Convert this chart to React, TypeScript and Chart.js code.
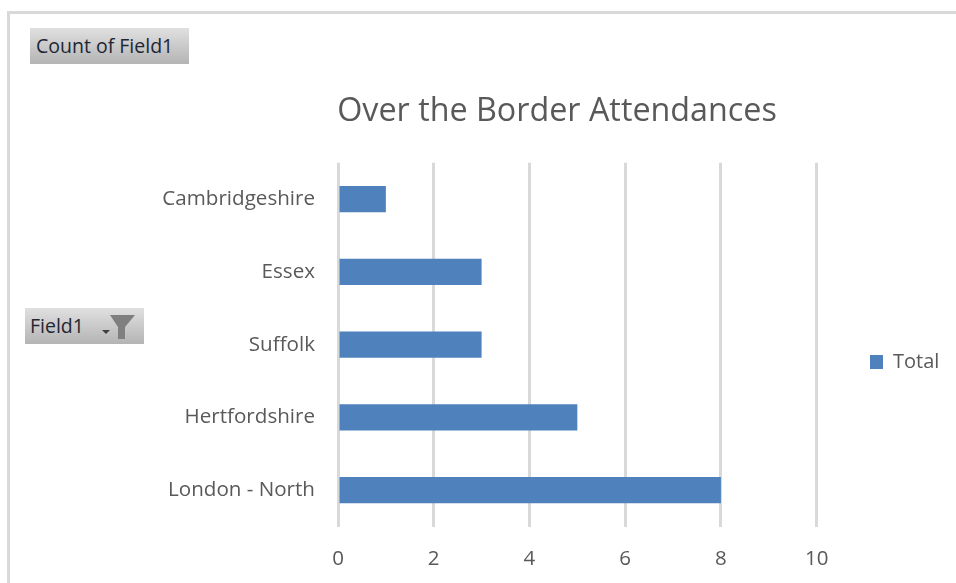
import React, { useEffect, useRef } from "react";
import { Chart, registerables } from "chart.js";

Chart.register(...registerables);

const regions = ["Cambridgeshire", "Essex", "Suffolk", "Hertfordshire", "London - North"];
const attendances = [1, 3, 3, 5, 8];
const seriesName = "Total";
const chartTitle = "Over the Border Attendances";
const fontFamily = "'Open Sans', 'Noto Sans', sans-serif";
const textColor = "#595959";

// Places the title and legend blocks independently of the plot area.
const blockPlacement = {
  id: "blockPlacement",
  afterLayout(chart: any) {
    const title = chart.titleBlock;
    if (title) {
      const h = title.bottom - title.top;
      title.left = 337;
      title.right = 777;
      title.top = 92;
      title.bottom = 92 + h;
    }
    const legend = chart.legend;
    if (legend) {
      const h = legend.bottom - legend.top;
      const w = legend.right - legend.left;
      legend.left = 862;
      legend.right = 862 + w;
      legend.top = 362 - h / 2;
      legend.bottom = 362 + h / 2;
    }
  },
};

const pillStyle: React.CSSProperties = {
  position: "absolute",
  boxSizing: "border-box",
  background: "linear-gradient(#e0e0e0, #b4b4b4)",
  color: "#1e2633",
  fontFamily: "'Open Sans', sans-serif",
  fontSize: 19.5,
  lineHeight: "36px",
  height: 36,
  whiteSpace: "nowrap",
};

export default function App() {
  const canvasRef = useRef<HTMLCanvasElement>(null);

  useEffect(() => {
    document.body.style.margin = "0";
    const chart = new Chart(canvasRef.current!, {
      type: "bar",
      plugins: [blockPlacement],
      data: {
        labels: regions,
        datasets: [
          {
            label: seriesName,
            data: attendances,
            backgroundColor: "#4f81bd",
            categoryPercentage: 1,
            barPercentage: 0.36,
          },
        ],
      },
      options: {
        indexAxis: "y",
        animation: false,
        responsive: false,
        layout: { padding: { left: 0, right: 52, top: 124, bottom: 0 } },
        scales: {
          x: {
            min: 0,
            max: 10,
            ticks: {
              stepSize: 2,
              color: textColor,
              font: { family: fontFamily, size: 20.5 },
              padding: 20,
              maxRotation: 0,
            },
            grid: { color: "#d9d9d9", lineWidth: 3, drawTicks: false },
            border: { display: false },
            afterFit(scale: any) {
              scale.height = 56.5;
            },
          },
          y: {
            ticks: {
              color: textColor,
              font: { family: fontFamily, size: 20.6 },
              padding: 23,
            },
            grid: { display: false, drawTicks: false },
            border: { display: false },
            afterFit(scale: any) {
              scale.width = 338;
            },
          },
        },
        plugins: {
          title: {
            display: true,
            text: chartTitle,
            color: textColor,
            font: { family: fontFamily, size: 32.3, weight: "normal" },
            padding: 0,
          },
          legend: {
            display: true,
            position: "right",
            labels: {
              color: textColor,
              font: { family: fontFamily, size: 20 },
              boxWidth: 13,
              boxHeight: 14,
              padding: 8,
            },
          },
          tooltip: { enabled: false },
        },
      },
    } as any);
    return () => chart.destroy();
  }, []);

  return (
    <div style={{ position: "relative", width: 956, height: 583, overflow: "hidden", background: "#fff" }}>
      <canvas ref={canvasRef} width={956} height={583} style={{ display: "block" }} />
      <div style={{ position: "absolute", left: 7, top: 11, width: 960, height: 600, borderLeft: "3px solid #d9d9d9", borderTop: "3px solid #d9d9d9" }} />
      <div style={{ ...pillStyle, left: 30, top: 28, width: 159, paddingLeft: 6 }}>Count of Field1</div>
      <div style={{ ...pillStyle, left: 25, top: 308, width: 119, paddingLeft: 5 }}>
        Field1
        <svg width="40" height="30" style={{ position: "absolute", left: 72, top: 5 }}>
          <path d="M5 17 L13 17 L9 21 Z" fill="#404040" />
          <path d="M13 2 L38 2 L28 14 L28 26 L21 26 L21 14 Z" fill="#7f7f7f" />
        </svg>
      </div>
    </div>
  );
}
